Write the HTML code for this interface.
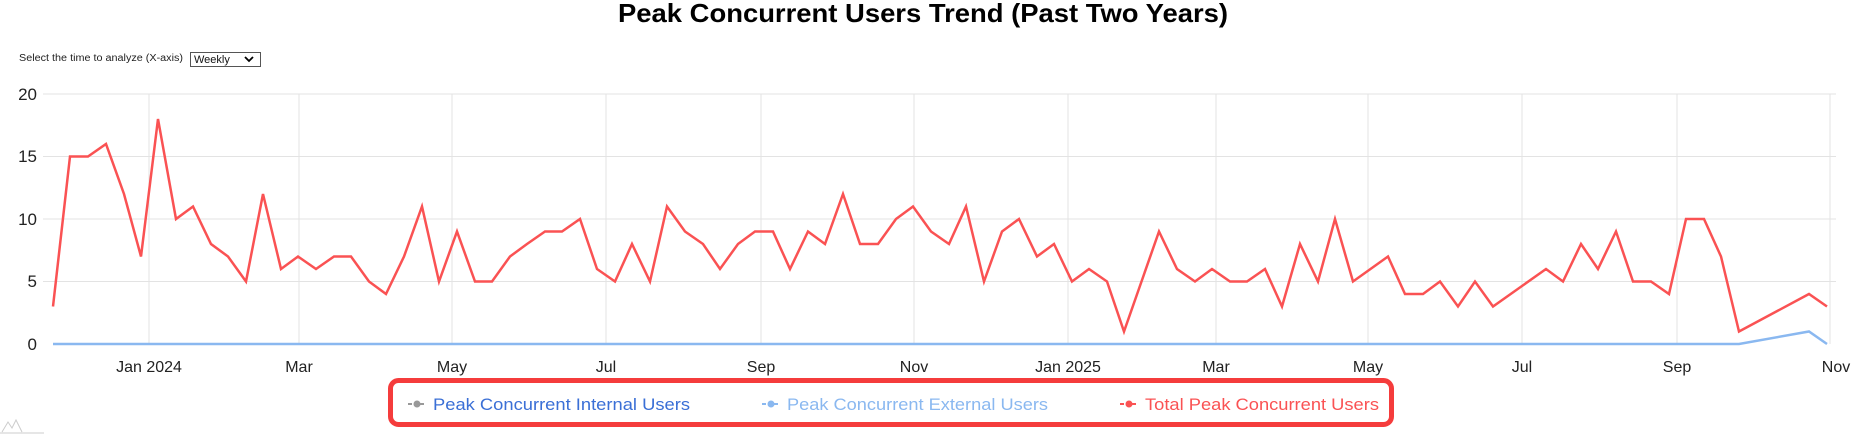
<!DOCTYPE html>
<html><head><meta charset="utf-8"><style>
body{margin:0;background:#fff;width:1854px;height:435px;overflow:hidden;font-family:"Liberation Sans",sans-serif}
</style></head><body>
<svg width="1854" height="435" xmlns="http://www.w3.org/2000/svg" font-family="Liberation Sans, sans-serif">
<text x="923" y="22" text-anchor="middle" font-size="26" font-weight="bold" textLength="610" lengthAdjust="spacingAndGlyphs">Peak Concurrent Users Trend (Past Two Years)</text>
<text x="19" y="61" font-size="10" fill="#222" textLength="164" lengthAdjust="spacingAndGlyphs">Select the time to analyze (X-axis)</text>
<rect x="190.5" y="52.5" width="70" height="14" fill="#fff" stroke="#555"/>
<text x="194" y="63" font-size="11" fill="#111">Weekly</text>
<path d="M245 57 l4 4 l4 -4" fill="none" stroke="#000" stroke-width="1.8"/>
<g stroke="#e3e3e3" stroke-width="1">
<line x1="43" y1="94" x2="1836" y2="94"/><line x1="43" y1="156.5" x2="1836" y2="156.5"/><line x1="43" y1="219" x2="1836" y2="219"/><line x1="43" y1="281.5" x2="1836" y2="281.5"/>
<line x1="149" y1="94" x2="149" y2="344"/><line x1="299" y1="94" x2="299" y2="344"/><line x1="452" y1="94" x2="452" y2="344"/><line x1="606" y1="94" x2="606" y2="344"/><line x1="761" y1="94" x2="761" y2="344"/><line x1="914" y1="94" x2="914" y2="344"/><line x1="1068" y1="94" x2="1068" y2="344"/><line x1="1216" y1="94" x2="1216" y2="344"/><line x1="1368" y1="94" x2="1368" y2="344"/><line x1="1522" y1="94" x2="1522" y2="344"/><line x1="1677" y1="94" x2="1677" y2="344"/><line x1="1830" y1="94" x2="1830" y2="344"/>
</g>
<g font-size="17" fill="#222" text-anchor="end">
<text x="37" y="100">20</text><text x="37" y="162">15</text><text x="37" y="225">10</text><text x="37" y="287">5</text><text x="37" y="350">0</text>
</g>
<g font-size="16" fill="#222" text-anchor="middle">
<text x="149" y="372">Jan 2024</text><text x="299" y="372">Mar</text><text x="452" y="372">May</text><text x="606" y="372">Jul</text><text x="761" y="372">Sep</text><text x="914" y="372">Nov</text><text x="1068" y="372">Jan 2025</text><text x="1216" y="372">Mar</text><text x="1368" y="372">May</text><text x="1522" y="372">Jul</text><text x="1677" y="372">Sep</text><text x="1836" y="372">Nov</text>
</g>
<polyline fill="none" stroke="#8ab8f0" stroke-width="2.5" points="53,344 1739,344 1809,331.5 1827,344"/>
<polyline fill="none" stroke="#fa5253" stroke-width="2.5" stroke-linejoin="miter" points="53,306.5 70,156.5 88,156.5 106,144 124,194 141,256.5 158,119 176,219 193,206.5 211,244 228,256.5 246,281.5 263,194 281,269 298,256.5 316,269 334,256.5 351,256.5 369,281.5 386,294 404,256.5 422,206.5 439,281.5 457,231.5 475,281.5 492,281.5 510,256.5 527,244 545,231.5 562,231.5 580,219 597,269 615,281.5 632,244 650,281.5 667,206.5 685,231.5 703,244 720,269 738,244 755,231.5 773,231.5 790,269 808,231.5 825,244 843,194 860,244 878,244 896,219 913,206.5 931,231.5 949,244 966,206.5 984,281.5 1002,231.5 1019,219 1037,256.5 1054,244 1072,281.5 1089,269 1107,281.5 1124,331.5 1159,231.5 1177,269 1195,281.5 1212,269 1230,281.5 1247,281.5 1265,269 1282,306.5 1300,244 1318,281.5 1335,219 1353,281.5 1388,256.5 1405,294 1423,294 1440,281.5 1458,306.5 1475,281.5 1493,306.5 1546,269 1563,281.5 1581,244 1598,269 1616,231.5 1633,281.5 1651,281.5 1669,294 1686,219 1704,219 1721,256.5 1739,331.5 1809,294 1827,306.5"/>
<rect x="390.5" y="380.5" width="1001" height="44" rx="8" fill="none" stroke="#f53c3c" stroke-width="5"/>
<g font-size="17">
<line x1="408" y1="404" x2="426" y2="404" stroke="#999" stroke-width="2" stroke-dasharray="4,2"/><circle cx="417" cy="404" r="3.5" fill="#999"/>
<text x="433" y="410" fill="#3a6fd6" textLength="257" lengthAdjust="spacingAndGlyphs">Peak Concurrent Internal Users</text>
<line x1="762" y1="404" x2="780" y2="404" stroke="#8ab8f0" stroke-width="2" stroke-dasharray="4,2"/><circle cx="771" cy="404" r="3.5" fill="#8ab8f0"/>
<text x="787" y="410" fill="#8ab8f0" textLength="261" lengthAdjust="spacingAndGlyphs">Peak Concurrent External Users</text>
<line x1="1120" y1="404" x2="1138" y2="404" stroke="#fa5253" stroke-width="2" stroke-dasharray="4,2"/><circle cx="1129" cy="404" r="3.5" fill="#fa5253"/>
<text x="1145" y="410" fill="#fa5253" textLength="234" lengthAdjust="spacingAndGlyphs">Total Peak Concurrent Users</text>
</g>
<path d="M2 432 L8 422 L12 428 L16 420 L22 432 M0 433 H44" fill="none" stroke="#ccc" stroke-width="1"/>
</svg>
</body></html>
